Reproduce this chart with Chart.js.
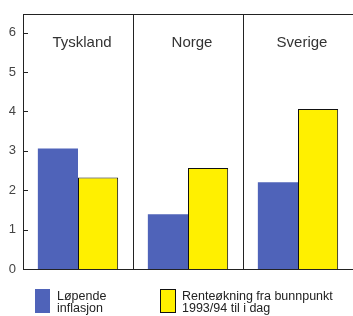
<!DOCTYPE html>
<html>
<head>
<meta charset="utf-8">
<script src="https://cdn.jsdelivr.net/npm/chart.js@4/dist/chart.umd.min.js"></script>
<style>
html,body{margin:0;padding:0;background:#fff;}
#wrap{width:353px;height:316px;position:relative;}
</style>
</head>
<body>
<div id="wrap"><canvas id="c"></canvas></div>
<script>
const categories = ["Tyskland", "Norge", "Sverige"];
const inflation = [3.06, 1.39, 2.20];
const rateRise = [2.32, 2.56, 4.06];
const seriesLabels = [["Løpende", "inflasjon"], ["Renteøkning fra bunnpunkt", "1993/94 til i dag"]];
const yTicks = [0, 1, 2, 3, 4, 5, 6];

const BLUE = "#4f63b9";
const YELLOW = "#fff000";
const FONT = "'Liberation Sans', Arial, Helvetica, sans-serif";

const overlay = {
  id: "overlay",
  afterDatasetsDraw(chart) {
    const ctx = chart.ctx;
    const x = chart.scales.x, y = chart.scales.y;
    const a = chart.chartArea;
    ctx.save();
    // inside tick marks
    ctx.strokeStyle = "#222";
    ctx.lineWidth = 1;
    yTicks.forEach(v => {
      const py = Math.round(y.getPixelForValue(v)) + 0.5;
      ctx.beginPath();
      ctx.moveTo(a.left, py);
      ctx.lineTo(a.left + 5, py);
      ctx.stroke();
    });
    // category labels inside top
    ctx.fillStyle = "#333";
    ctx.font = "15px " + FONT;
    ctx.textAlign = "center";
    ctx.textBaseline = "middle";
    categories.forEach((c, i) => {
      ctx.fillText(c, x.getPixelForValue(i) + 4, 43);
    });
    // legend
    const items = [
      {x: 35, color: BLUE, border: null, text: seriesLabels[0]},
      {x: 160, color: YELLOW, border: "#111", text: seriesLabels[1]}
    ];
    ctx.font = "12.5px " + FONT;
    ctx.textAlign = "left";
    items.forEach(it => {
      ctx.fillStyle = it.color;
      ctx.fillRect(it.x, 289, 15, 24);
      if (it.border) {
        ctx.strokeStyle = it.border;
        ctx.strokeRect(it.x + 0.5, 289.5, 15, 23);
      }
      ctx.fillStyle = "#222";
      it.text.forEach((t, k) => ctx.fillText(t, it.x + 22, 297 + k * 12));
    });
    ctx.restore();
  }
};

new Chart(document.getElementById("c"), {
  type: "bar",
  data: {
    labels: categories,
    datasets: [
      {label: seriesLabels[0].join(" "), data: inflation, backgroundColor: BLUE, borderWidth: 0},
      {label: seriesLabels[1].join(" "), data: rateRise, backgroundColor: YELLOW, borderColor: "#111", borderWidth: 1, borderSkipped: "bottom"}
    ]
  },
  options: {
    responsive: true,
    maintainAspectRatio: false,
    animation: false,
    layout: {padding: {top: 14, bottom: 47, right: 0, left: 0}},
    plugins: {legend: {display: false}, tooltip: {enabled: false}},
    datasets: {bar: {categoryPercentage: 0.73, barPercentage: 1.0}},
    scales: {
      x: {
        grid: {offset: true, color: "#222", lineWidth: 1, drawTicks: false},
        border: {display: true, color: "#222", width: 1},
        ticks: {display: false}
      },
      xTop: {
        position: "top",
        grid: {display: false, drawTicks: false},
        border: {display: true, color: "#222", width: 1},
        ticks: {display: false}
      },
      y: {
        min: 0, max: 6.45,
        afterFit(s) { s.width = 23; },
        grid: {display: false, drawTicks: false},
        border: {display: true, color: "#222", width: 1},
        afterBuildTicks(s) { s.ticks = yTicks.map(v => ({value: v})); },
        ticks: {color: "#444", font: {family: FONT, size: 13}, padding: 7}
      }
    }
  },
  plugins: [overlay]
});
</script>
</body>
</html>
